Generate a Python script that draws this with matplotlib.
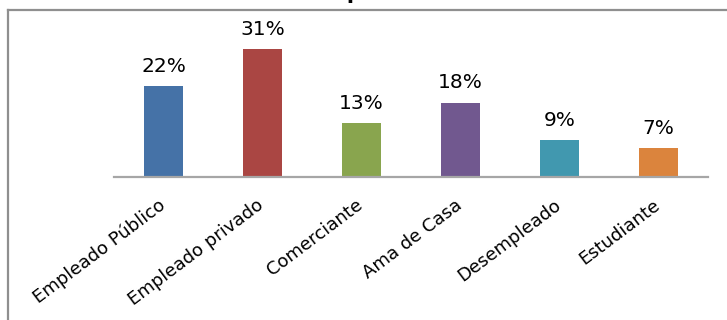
import matplotlib

matplotlib.use("Agg")

import matplotlib.pyplot as plt
from matplotlib.lines import Line2D
from matplotlib.transforms import ScaledTranslation

categories = [
    "Empleado Público",
    "Empleado privado",
    "Comerciante",
    "Ama de Casa",
    "Desempleado",
    "Estudiante",
]
percent = [22, 31, 13, 18, 9, 7]
bar_colors = ["#4572A7", "#AA4643", "#89A54E", "#71588F", "#4198AF", "#DB843D"]
title = "Ocupación"

W, H = 727, 320
fig = plt.figure(figsize=(W / 100, H / 100), dpi=100)
fig.patch.set_facecolor("white")

# plot area in pixel units, baseline at y=177 from the top
left, right, base = 114, 708, 177
px_per_unit = 4.12
ymax = 40
ax = fig.add_axes([left / W, (H - base) / H, (right - left) / W, ymax * px_per_unit / H])

x = range(len(categories))
ax.bar(x, percent, width=0.4, color=bar_colors, zorder=2)
ax.set_xlim(-0.5, len(categories) - 0.5)
ax.set_ylim(0, ymax)

for xi, v in zip(x, percent):
    ax.annotate(
        f"{v}%",
        xy=(xi, v),
        xytext=(0, 7.5),
        textcoords="offset points",
        ha="center",
        va="bottom",
        fontsize=14.5,
        family="DejaVu Sans",
        color="black",
    )

ax.set_xticks(list(x))
ax.set_xticklabels(
    categories,
    rotation=37,
    ha="right",
    va="top",
    rotation_mode="anchor",
    fontsize=13,
    family="DejaVu Sans",
)
ax.tick_params(axis="x", length=0, pad=13.5)
shift = ScaledTranslation(-6 / 100, 0, fig.dpi_scale_trans)
for label in ax.get_xticklabels():
    label.set_transform(label.get_transform() + shift)
ax.set_yticks([])
for side in ("left", "right", "top"):
    ax.spines[side].set_visible(False)
ax.spines["bottom"].set_color("#a6a6a6")
ax.spines["bottom"].set_linewidth(1.6)

# outer chart frame, cropped at right and bottom edges
frame = dict(color="#8f8f8f", linewidth=1.6, transform=fig.transFigure)
fig.add_artist(Line2D([8 / W, 8 / W], [0, 1 - 10 / H], **frame))
fig.add_artist(Line2D([8 / W, 1], [1 - 10 / H, 1 - 10 / H], **frame))

# chart title sits above the visible region
fig.text(
    0.5,
    1 + 1 / H,
    title,
    ha="center",
    va="baseline",
    fontsize=15,
    fontweight="bold",
    family="DejaVu Sans",
)

fig.savefig("out.png", dpi=100)
